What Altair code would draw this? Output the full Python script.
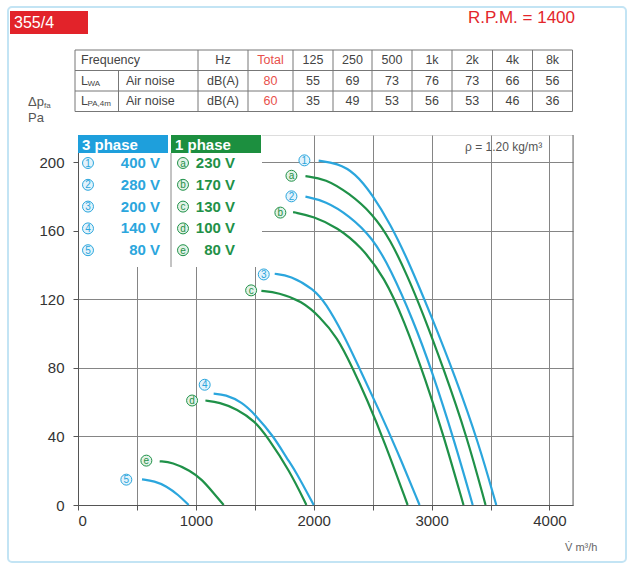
import altair as alt
import pandas as pd

# ------------------------------------------------------------------ data
# fan curves: flow V (m3/h) and pressure dp_fa (Pa)
flow_1 = [2042, 2200, 2350, 2500, 2650, 2800, 3000, 3200, 3400, 3549]
dp_1 = [201, 199.5, 194, 181, 164, 143, 110, 75, 36, 0]
flow_a = [1930, 2100, 2300, 2500, 2650, 2800, 2920, 3100, 3300, 3458]
dp_a = [192, 190.5, 182, 170, 155, 133, 113, 80, 40, 0]
flow_2 = [1930, 2100, 2300, 2500, 2650, 2843, 3000, 3200, 3349]
dp_2 = [180, 177.5, 169, 156, 138, 108, 79, 36, 0]
flow_b = [1825, 2000, 2200, 2400, 2600, 2765, 2950, 3100, 3271]
dp_b = [171, 168.5, 162, 151, 133, 108, 73, 41, 0]
flow_3 = [1669, 1800, 2000, 2100, 2250, 2400, 2550, 2700, 2898]
dp_3 = [135, 134, 126, 118, 100, 78, 56, 33, 0]
flow_c = [1556, 1700, 1900, 2050, 2200, 2330, 2450, 2600, 2797]
dp_c = [125, 124, 119, 110, 98, 80, 62, 37, 0]
flow_4 = [1151, 1250, 1392, 1500, 1661, 1774, 1845, 2000]
dp_4 = [65, 64.5, 60, 53, 40, 27, 20, 0]
flow_d = [1081, 1200, 1350, 1500, 1604, 1796, 1938]
dp_d = [61, 60, 56, 49, 40, 20, 0]
flow_5 = [543, 650, 750, 850, 939]
dp_5 = [15, 14, 11, 6, 0]
flow_e = [693, 800, 953, 1050, 1150, 1236]
dp_e = [25.5, 25, 20, 15, 7, 0]

curve_ids = ["1", "a", "2", "b", "3", "c", "4", "d", "5", "e"]
curve_phase = ["3 phase", "1 phase"] * 5
curve_flows = [flow_1, flow_a, flow_2, flow_b, flow_3, flow_c, flow_4, flow_d, flow_5, flow_e]
curve_dps = [dp_1, dp_a, dp_2, dp_b, dp_3, dp_c, dp_4, dp_d, dp_5, dp_e]

# curve tags (circled labels) positions
label_flow = [1921, 1811, 1811, 1717, 1576, 1469, 1075, 968, 410, 580]
label_dp = [201.2, 192.2, 180.2, 170.7, 134.6, 125.3, 70.2, 61, 14.8, 25.9]

# legend
volts_3 = ["400 V", "280 V", "200 V", "140 V", "80 V"]
ids_3 = ["1", "2", "3", "4", "5"]
volts_1 = ["230 V", "170 V", "130 V", "100 V", "80 V"]
ids_1 = ["a", "b", "c", "d", "e"]

# noise table
bands = ["Total", "125", "250", "500", "1k", "2k", "4k", "8k"]
lwa = [80, 55, 69, 73, 76, 73, 66, 56]
lpa = [60, 35, 49, 53, 56, 53, 46, 36]

# ------------------------------------------------------------------ style / layout
BLUE = "#2ba6dd"
GREEN = "#1f9148"
PALE = {"3 phase": "#e3f3fb", "1 phase": "#e2f2e7"}
RED = "#e3262b"
FONT = "Liberation Sans"
NARROW = "'Liberation Sans Narrow', 'Liberation Sans', sans-serif"
W, H = 495, 370
XMAX, YMAX = 4200, 216

phase_scale = alt.Scale(domain=["3 phase", "1 phase"], range=[BLUE, GREEN])
pale_scale = alt.Scale(domain=["3 phase", "1 phase"], range=[PALE["3 phase"], PALE["1 phase"]])
xs = alt.Scale(domain=[0, XMAX], nice=False, zero=False)
ys = alt.Scale(domain=[0, YMAX], nice=False, zero=False)

one = pd.DataFrame({"k": [0]})

rows = []
for cid, ph, fl, dp in zip(curve_ids, curve_phase, curve_flows, curve_dps):
    for q, p in zip(fl, dp):
        rows.append({"curve": cid, "phase": ph, "q": q, "p": p})
curves_df = pd.DataFrame(rows)
labels_df = pd.DataFrame({"curve": curve_ids, "phase": curve_phase,
                          "q": label_flow, "p": label_dp})

x_axis = alt.Axis(values=list(range(0, 4001, 500)), format="d",
                  labelExpr="datum.value % 1000 === 0 ? datum.label : ''",
                  grid=True, gridColor="#858585", gridWidth=1,
                  domainColor="#555", tickColor="#555", tickSize=5,
                  labelFont=FONT, labelFontSize=15, labelColor="#333",
                  labelPadding=3, title=None)
y_axis = alt.Axis(values=list(range(0, 201, 20)), format="d",
                  labelExpr="datum.value % 40 === 0 ? datum.label : ''",
                  grid=True, gridColor="#858585", gridWidth=1,
                  domainColor="#555", tickColor="#555", tickSize=5,
                  labelFont=FONT, labelFontSize=15, labelColor="#333",
                  labelPadding=9, title=None)

lines = alt.Chart(curves_df).mark_line(interpolate="basis", strokeWidth=2.2).encode(
    x=alt.X("q:Q", scale=xs, axis=x_axis),
    y=alt.Y("p:Q", scale=ys, axis=y_axis),
    color=alt.Color("phase:N", scale=phase_scale, legend=None),
    detail="curve:N",
)

tag_circles = alt.Chart(labels_df).mark_circle(size=120, opacity=1, strokeWidth=1).encode(
    x=alt.X("q:Q", scale=xs),
    y=alt.Y("p:Q", scale=ys),
    fill=alt.Fill("phase:N", scale=pale_scale, legend=None),
    stroke=alt.Stroke("phase:N", scale=phase_scale, legend=None),
)
tag_text = alt.Chart(labels_df).mark_text(font=FONT, fontSize=10, baseline="middle", dy=0.5).encode(
    x=alt.X("q:Q", scale=xs),
    y=alt.Y("p:Q", scale=ys),
    text="curve:N",
    color=alt.Color("phase:N", scale=phase_scale, legend=None),
)

right_frame = alt.Chart(one).mark_rule(color="#666", strokeWidth=1).encode(
    x=alt.value(W), y=alt.value(0), y2=alt.value(H))

# ---- legend box (top-left inside plot)
leg_bg = alt.Chart(one).mark_rect(color="white").encode(
    x=alt.value(1), x2=alt.value(184), y=alt.value(0), y2=alt.value(132))
head_3 = alt.Chart(one).mark_rect(color="#1e9fdc").encode(
    x=alt.value(0), x2=alt.value(90), y=alt.value(0), y2=alt.value(18))
head_1 = alt.Chart(one).mark_rect(color="#1c8f3f").encode(
    x=alt.value(93), x2=alt.value(183), y=alt.value(0), y2=alt.value(18))
head_3_t = alt.Chart(one).mark_text(text="3 phase", font=NARROW, fontSize=15, fontWeight="bold",
                                    color="white", align="left", baseline="middle").encode(
    x=alt.value(4), y=alt.value(9.5))
head_1_t = alt.Chart(one).mark_text(text="1 phase", font=NARROW, fontSize=15, fontWeight="bold",
                                    color="white", align="left", baseline="middle").encode(
    x=alt.value(97), y=alt.value(9.5))
leg_sep = alt.Chart(one).mark_rule(color="#888", strokeWidth=1).encode(
    x=alt.value(93), y=alt.value(18), y2=alt.value(132))

leg_rows = []
for i, (cid, v) in enumerate(zip(ids_3, volts_3)):
    leg_rows.append({"id": cid, "volt": v, "phase": "3 phase",
                     "cx": 10, "tx": 82, "py": 28 + 21.8 * i})
for i, (cid, v) in enumerate(zip(ids_1, volts_1)):
    leg_rows.append({"id": cid, "volt": v, "phase": "1 phase",
                     "cx": 105, "tx": 157, "py": 28 + 21.8 * i})
leg_df = pd.DataFrame(leg_rows)

leg_circ = alt.Chart(leg_df).mark_circle(size=120, opacity=1, strokeWidth=1).encode(
    x=alt.X("cx:Q", scale=None), y=alt.Y("py:Q", scale=None),
    fill=alt.Fill("phase:N", scale=pale_scale, legend=None),
    stroke=alt.Stroke("phase:N", scale=phase_scale, legend=None),
)
leg_id = alt.Chart(leg_df).mark_text(font=FONT, fontSize=10, baseline="middle", dy=0.5).encode(
    x=alt.X("cx:Q", scale=None), y=alt.Y("py:Q", scale=None), text="id:N",
    color=alt.Color("phase:N", scale=phase_scale, legend=None),
)
leg_volt = alt.Chart(leg_df).mark_text(font=NARROW, fontSize=15, fontWeight="bold",
                                       align="right", baseline="middle").encode(
    x=alt.X("tx:Q", scale=None), y=alt.Y("py:Q", scale=None), text="volt:N",
    color=alt.Color("phase:N", scale=phase_scale, legend=None),
)

# ---- noise table (above the plot), pixel layout relative to plot origin
col_edges = [-3, 120, 170, 215, 255, 294, 334, 374, 414.5, 454.5, 494.5]
row_edges = [-85, -64.5, -44, -23.5]
sub_sep = 40.5
row_mid = [(row_edges[i] + row_edges[i + 1]) / 2 for i in range(3)]
col_mid = [(col_edges[i] + col_edges[i + 1]) / 2 for i in range(len(col_edges) - 1)]

grid_rows = []
for yv in row_edges:
    grid_rows.append({"x": col_edges[0], "x2": col_edges[-1], "y": yv, "y2": yv})
for xv in col_edges:
    grid_rows.append({"x": xv, "x2": xv, "y": row_edges[0], "y2": row_edges[-1]})
grid_rows.append({"x": sub_sep, "x2": sub_sep, "y": row_edges[1], "y2": row_edges[-1]})
tgrid = alt.Chart(pd.DataFrame(grid_rows)).mark_rule(color="#777", strokeWidth=1).encode(
    x=alt.X("x:Q", scale=None), x2="x2:Q", y=alt.Y("y:Q", scale=None), y2="y2:Q")

cells = [{"t": "Hz", "x": col_mid[1], "y": row_mid[0], "c": "#444"},
         {"t": "dB(A)", "x": col_mid[1], "y": row_mid[1], "c": "#444"},
         {"t": "dB(A)", "x": col_mid[1], "y": row_mid[2], "c": "#444"}]
for j, (b, v1, v2) in enumerate(zip(bands, lwa, lpa)):
    colr = "#e8504c" if j == 0 else "#444"
    cells.append({"t": b, "x": col_mid[2 + j], "y": row_mid[0], "c": colr})
    cells.append({"t": str(v1), "x": col_mid[2 + j], "y": row_mid[1], "c": colr})
    cells.append({"t": str(v2), "x": col_mid[2 + j], "y": row_mid[2], "c": colr})
cell_df = pd.DataFrame(cells)
tcells = alt.Chart(cell_df).mark_text(font=NARROW, fontSize=12.5, align="center",
                                      baseline="middle").encode(
    x=alt.X("x:Q", scale=None), y=alt.Y("y:Q", scale=None), text="t:N",
    color=alt.Color("c:N", scale=None))

left_cells = pd.DataFrame([
    {"t": "Frequency", "x": 3, "y": row_mid[0]},
    {"t": "L", "x": 3, "y": row_mid[1]},
    {"t": "L", "x": 3, "y": row_mid[2]},
    {"t": "Air noise", "x": 48, "y": row_mid[1]},
    {"t": "Air noise", "x": 48, "y": row_mid[2]},
])
tleft = alt.Chart(left_cells).mark_text(font=NARROW, fontSize=12.5, align="left",
                                        baseline="middle", color="#444").encode(
    x=alt.X("x:Q", scale=None), y=alt.Y("y:Q", scale=None), text="t:N")
subs = pd.DataFrame([
    {"t": "WA", "x": 9.5, "y": row_mid[1] + 3},
    {"t": "PA,4m", "x": 9.5, "y": row_mid[2] + 3},
])
tsubs = alt.Chart(subs).mark_text(font=NARROW, fontSize=8, align="left",
                                  baseline="middle", color="#444").encode(
    x=alt.X("x:Q", scale=None), y=alt.Y("y:Q", scale=None), text="t:N")

# ---- header, axis titles, notes
card = alt.Chart(one).mark_rect(fill=None, stroke="#c3e4f4", strokeWidth=2, cornerRadius=4).encode(
    x=alt.value(-70), x2=alt.value(548), y=alt.value(-128), y2=alt.value(427))
red_box = alt.Chart(one).mark_rect(color="#e2232a").encode(
    x=alt.value(-68), x2=alt.value(10), y=alt.value(-124), y2=alt.value(-101))
red_box_t = alt.Chart(one).mark_text(text="355/4", font=FONT, fontSize=16, color="white",
                                     align="left", baseline="middle").encode(
    x=alt.value(-64), y=alt.value(-112))
rpm_t = alt.Chart(one).mark_text(text="R.P.M. = 1400", font=FONT, fontSize=17, color=RED,
                                 align="right", baseline="middle").encode(
    x=alt.value(497), y=alt.value(-117))
ylab1 = alt.Chart(one).mark_text(text="Δp", font=FONT, fontSize=13, color="#555",
                                 align="left", baseline="middle").encode(
    x=alt.value(-50), y=alt.value(-33))
ylab1s = alt.Chart(one).mark_text(text="fa", font=FONT, fontSize=8, color="#555",
                                  align="left", baseline="middle").encode(
    x=alt.value(-34), y=alt.value(-29))
ylab2 = alt.Chart(one).mark_text(text="Pa", font=FONT, fontSize=13, color="#555",
                                 align="left", baseline="middle").encode(
    x=alt.value(-50), y=alt.value(-17))
xlab = alt.Chart(one).mark_text(text="V\u0307 m³/h", font=FONT, fontSize=11, color="#666",
                                align="left", baseline="middle").encode(
    x=alt.value(487), y=alt.value(413))
rho = alt.Chart(one).mark_text(text="ρ = 1.20 kg/m³", font=FONT, fontSize=12, color="#555",
                               align="left", baseline="middle").encode(
    x=alt.value(387), y=alt.value(12))

chart = alt.layer(
    lines, right_frame, tag_circles, tag_text,
    leg_bg, head_3, head_1, head_3_t, head_1_t, leg_sep, leg_circ, leg_id, leg_volt,
    tgrid, tcells, tleft, tsubs,
    card, red_box, red_box_t, rpm_t, ylab1, ylab1s, ylab2, xlab, rho,
).properties(
    width=W, height=H,
    autosize=alt.AutoSizeParams(type="none"),
    padding={"left": 78, "top": 135, "right": 56, "bottom": 60},
).configure_view(stroke=None).configure(background="white")

chart.save("out.html", embed_options={"renderer": "svg", "actions": False})
